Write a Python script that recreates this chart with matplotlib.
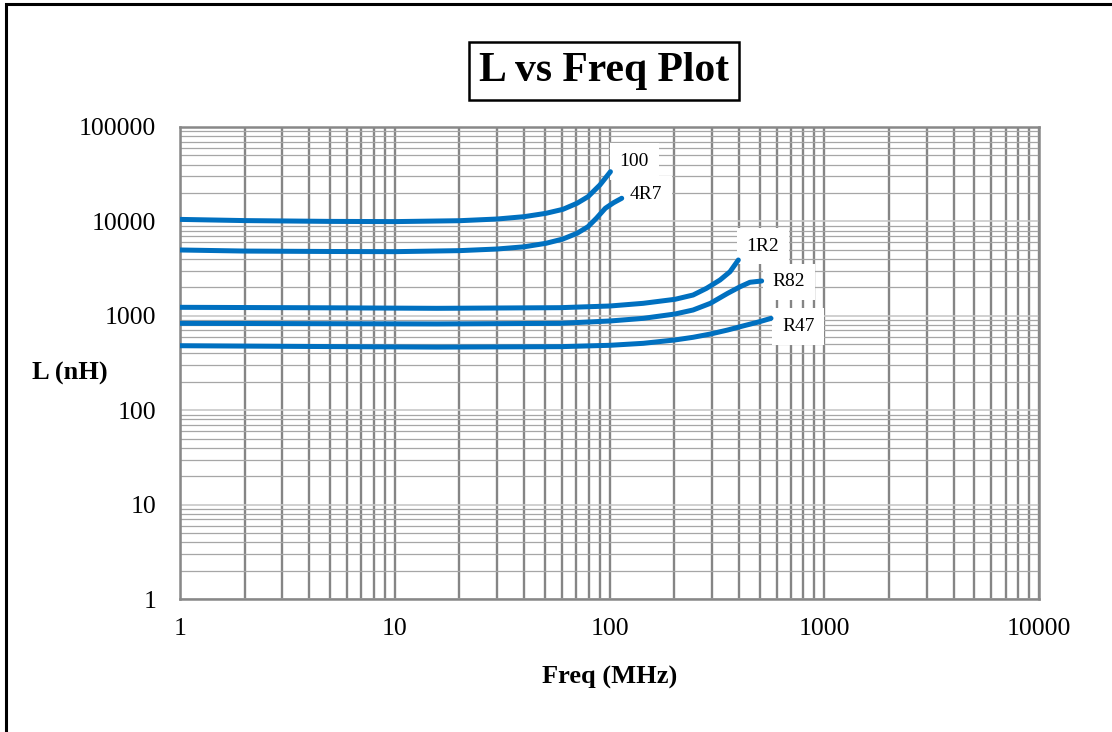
import numpy as np
import matplotlib
matplotlib.use("Agg")
import matplotlib.pyplot as plt
from matplotlib.patches import Rectangle
from matplotlib.ticker import LogLocator, NullFormatter

plt.rcParams['font.family'] = ['Liberation Serif', 'DejaVu Serif']

# data (freq in MHz, L in nH)
f_100 = [1, 2, 5, 10, 20, 30, 40, 50.6, 60.7, 70.6, 79.4, 90.2, 101]
L_100 = [10500, 10200, 10000, 9950, 10170, 10600, 11220, 12180, 13430, 15560, 18260, 24300, 33600]

f_4r7 = [1, 2, 5, 10, 20, 30, 40, 50.6, 60.7, 70.6, 79.4, 86.9, 95.6, 104.5, 114]
L_4r7 = [4980, 4850, 4800, 4780, 4900, 5100, 5380, 5860, 6510, 7480, 8790, 10800, 13770, 15780, 17580]

f_1r2 = [1, 5, 15.7, 58.8, 100.5, 143.6, 202, 245, 283, 327, 364, 398]
L_1r2 = [1230, 1215, 1200, 1219, 1270, 1356, 1496, 1660, 1955, 2395, 2930, 3900]

f_r82 = [1, 5, 15.7, 58.8, 100.5, 143.6, 202, 245, 295, 355, 406, 451, 511]
L_r82 = [832, 825, 820, 832, 881, 940, 1045, 1152, 1356, 1730, 2034, 2266, 2338]

f_r47 = [1, 5, 15.7, 58.8, 100.5, 143.6, 202, 245, 295, 355, 418, 500, 565]
L_r47 = [482, 472, 466, 471, 487, 511, 555, 592, 641, 707, 780, 866, 940]

names = ["100", "4R7", "1R2", "R82", "R47"]
freqs = [f_100, f_4r7, f_1r2, f_r82, f_r47]
inds = [L_100, L_4r7, L_1r2, L_r82, L_r47]
label_off = [(9, 10), (8, 4), (8, 14), (11, -1), (11, -8)]

fig = plt.figure(figsize=(11.12, 7.32), dpi=100)
ax = fig.add_axes([180 / 1112, 1 - 599 / 732, 859 / 1112, 472 / 732])

blue = "#0070C0"
for name, f, L, off in zip(names, freqs, inds, label_off):
    ax.plot(f, L, color=blue, lw=3.6, solid_capstyle='round', zorder=3)
    ax.annotate(name, xy=(f[-1], L[-1]), xytext=off, textcoords='offset pixels',
                fontsize=14, va='center', ha='left', zorder=2.5,
                bbox=dict(boxstyle='square,pad=0.5', fc='white', ec='none'))

ax.set_xscale('log')
ax.set_yscale('log')
ax.set_xlim(1, 10000)
ax.set_ylim(1, 100000)

ax.xaxis.set_major_locator(LogLocator(base=10, numticks=10))
ax.yaxis.set_major_locator(LogLocator(base=10, numticks=10))
ax.xaxis.set_minor_locator(LogLocator(base=10, subs=np.arange(2, 10), numticks=20))
ax.yaxis.set_minor_locator(LogLocator(base=10, subs=np.arange(2, 10), numticks=20))
ax.xaxis.set_minor_formatter(NullFormatter())
ax.yaxis.set_minor_formatter(NullFormatter())
ax.xaxis.set_major_formatter(plt.FuncFormatter(lambda v, p: f"{int(round(v))}"))
ax.yaxis.set_major_formatter(plt.FuncFormatter(lambda v, p: f"{int(round(v))}"))

ax.grid(True, axis='x', which='both', color='#858585', lw=1.7, zorder=1)
ax.grid(True, axis='y', which='minor', color='#a6a6a6', lw=0.9, zorder=1)
ax.grid(True, axis='y', which='major', color='#c8c8c8', lw=1.2, zorder=1)
ax.set_axisbelow(True)

ax.tick_params(axis='both', which='both', length=0, labelsize=18.5)
ax.tick_params(axis='x', pad=14)
ax.tick_params(axis='y', pad=17)
for s in ax.spines.values():
    s.set_color('#888888')
    s.set_linewidth(1.8)

ax.set_xlabel("Freq (MHz)", fontsize=19, fontweight='bold', labelpad=18)
fig.text(70 / 1112, 1 - 373 / 732, "L (nH)", fontsize=19, fontweight='bold',
         ha='center', va='center')

fig.text(604 / 1112, 1 - 71 / 732, "L vs Freq Plot", fontsize=30, fontweight='bold',
         ha='center', va='center',
         bbox=dict(boxstyle='square,pad=0.25', fc='white', ec='black', lw=1.8))

# figure border (runs off the right and bottom edges)
fig.patches.append(Rectangle((6 / 1112, -0.1), 1.2, 1.1 - 4 / 732, transform=fig.transFigure,
                             fill=False, ec='black', lw=2.2))

fig.savefig("out.png", dpi=100)
